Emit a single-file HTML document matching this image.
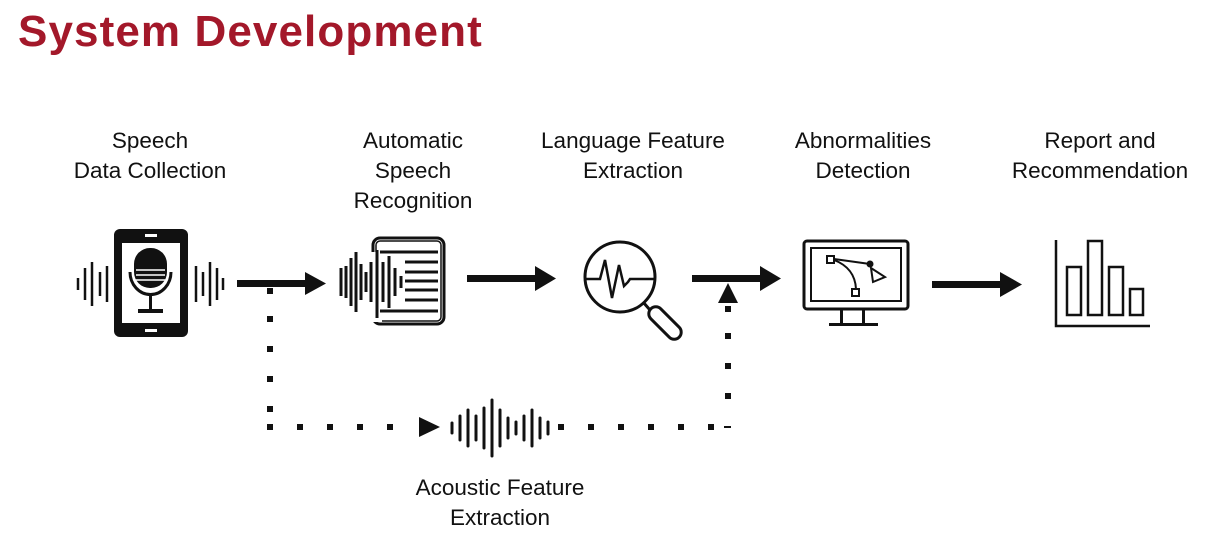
<!DOCTYPE html>
<html><head><meta charset="utf-8"><style>
html,body{margin:0;padding:0;background:#fff;}
body{width:1221px;height:550px;overflow:hidden;position:relative;font-family:"Liberation Sans",sans-serif;}
.t{position:absolute;left:18px;top:7px;font-size:44px;font-weight:bold;color:#a3182a;letter-spacing:1.1px;}
</style></head><body>
<div class="t">System Development</div>
<svg width="1221" height="550" style="position:absolute;left:0;top:0" font-family="Liberation Sans, sans-serif" font-size="22.5" fill="#111">
<g text-anchor="middle">
<text x="150" y="148">Speech</text><text x="150" y="178">Data Collection</text>
<text x="413" y="148">Automatic</text><text x="413" y="178">Speech</text><text x="413" y="208">Recognition</text>
<text x="633" y="148">Language Feature</text><text x="633" y="178">Extraction</text>
<text x="863" y="148">Abnormalities</text><text x="863" y="178">Detection</text>
<text x="1100" y="148">Report and</text><text x="1100" y="178">Recommendation</text>
<text x="500" y="495">Acoustic Feature</text><text x="500" y="525">Extraction</text>
</g>
<rect x="114" y="229" width="74" height="108" rx="6" fill="#111"/>
<rect x="122" y="243" width="58" height="80" fill="#fff"/>
<rect x="145" y="234" width="12" height="3" fill="#fff"/><rect x="145" y="329" width="12" height="3" fill="#fff"/>
<rect x="134" y="248" width="33" height="40" rx="16" fill="#111"/>
<g stroke="#fff" stroke-width="1.5"><line x1="136" y1="270" x2="165" y2="270"/><line x1="136" y1="275" x2="165" y2="275"/><line x1="136" y1="280" x2="165" y2="280"/></g>
<path d="M130 272 A20 22 0 0 0 171 272" fill="none" stroke="#111" stroke-width="3"/>
<rect x="149" y="294" width="3" height="16" fill="#111"/><rect x="138" y="309" width="25" height="4" fill="#111"/>
<g stroke="#111" stroke-width="2.5"><line x1="78" y1="278" x2="78" y2="290"/><line x1="85" y1="268" x2="85" y2="300"/><line x1="92" y1="262" x2="92" y2="306"/><line x1="100" y1="272" x2="100" y2="296"/><line x1="107" y1="266" x2="107" y2="302"/>
<line x1="196" y1="266" x2="196" y2="302"/><line x1="203" y1="272" x2="203" y2="296"/><line x1="210" y1="262" x2="210" y2="306"/><line x1="217" y1="268" x2="217" y2="300"/><line x1="223" y1="278" x2="223" y2="290"/></g>
<rect x="237" y="280" width="70" height="7"/><polygon points="305,272 326,283.5 305,295"/>
<rect x="467" y="275" width="70" height="7"/><polygon points="535,266 556,278.5 535,291"/>
<rect x="692" y="275" width="70" height="7"/><polygon points="760,266 781,278.5 760,291"/>
<rect x="932" y="281" width="70" height="7"/><polygon points="1000,272 1022,284.5 1000,297"/>
<g fill="#111">
<rect x="267" y="288" width="6" height="6"/><rect x="267" y="316" width="6" height="6"/><rect x="267" y="346" width="6" height="6"/><rect x="267" y="376" width="6" height="6"/><rect x="267" y="406" width="6" height="6"/><rect x="267" y="424" width="6" height="6"/>
<rect x="297" y="424" width="6" height="6"/><rect x="327" y="424" width="6" height="6"/><rect x="357" y="424" width="6" height="6"/><rect x="387" y="424" width="6" height="6"/>
<polygon points="419,417 440,427 419,437"/>
<rect x="558" y="424" width="6" height="6"/><rect x="588" y="424" width="6" height="6"/><rect x="618" y="424" width="6" height="6"/><rect x="648" y="424" width="6" height="6"/><rect x="678" y="424" width="6" height="6"/><rect x="708" y="424" width="6" height="6"/>
<rect x="724" y="426" width="7" height="2"/>
<rect x="725" y="393" width="6" height="6"/><rect x="725" y="363" width="6" height="6"/><rect x="725" y="333" width="6" height="6"/><rect x="725" y="306" width="6" height="6"/>
<polygon points="718,303 728,283 738,303"/>
</g>
<g stroke="#111" stroke-width="3" stroke-linecap="round">
<line x1="452" y1="423" x2="452" y2="433"/><line x1="460" y1="416" x2="460" y2="440"/><line x1="468" y1="410" x2="468" y2="446"/><line x1="476" y1="416" x2="476" y2="440"/><line x1="484" y1="408" x2="484" y2="448"/><line x1="492" y1="400" x2="492" y2="456"/><line x1="500" y1="410" x2="500" y2="446"/><line x1="508" y1="418" x2="508" y2="438"/><line x1="516" y1="422" x2="516" y2="434"/><line x1="524" y1="416" x2="524" y2="440"/><line x1="532" y1="410" x2="532" y2="446"/><line x1="540" y1="418" x2="540" y2="438"/><line x1="548" y1="422" x2="548" y2="434"/>
</g>
<rect x="373" y="238" width="71" height="86" rx="7" fill="none" stroke="#111" stroke-width="3"/>
<rect x="376" y="241" width="65" height="80" rx="4" fill="none" stroke="#111" stroke-width="1.5"/>
<rect x="368" y="252" width="14" height="70" fill="#fff"/>
<g stroke="#111" stroke-width="3"><line x1="380" y1="252" x2="438" y2="252"/><line x1="405" y1="262" x2="438" y2="262"/><line x1="405" y1="272" x2="438" y2="272"/><line x1="405" y1="281" x2="438" y2="281"/><line x1="405" y1="290" x2="438" y2="290"/><line x1="405" y1="300" x2="438" y2="300"/><line x1="380" y1="311" x2="438" y2="311"/></g>
<g stroke="#111" stroke-width="3"><line x1="341" y1="268" x2="341" y2="296"/><line x1="346" y1="266" x2="346" y2="298"/><line x1="351" y1="258" x2="351" y2="306"/><line x1="356" y1="252" x2="356" y2="312"/><line x1="361" y1="264" x2="361" y2="300"/><line x1="366" y1="272" x2="366" y2="292"/><line x1="371" y1="262" x2="371" y2="302"/><line x1="377" y1="250" x2="377" y2="318"/><line x1="383" y1="262" x2="383" y2="302"/><line x1="389" y1="256" x2="389" y2="308"/><line x1="395" y1="268" x2="395" y2="296"/><line x1="401" y1="276" x2="401" y2="288"/></g>
<circle cx="620" cy="277" r="35" fill="none" stroke="#111" stroke-width="3"/>
<polyline points="585,279 600,279 605,260 612,298 619,265 624,286 628,282 630,279 655,279" fill="none" stroke="#111" stroke-width="2.5" stroke-linejoin="miter"/>
<line x1="643" y1="302" x2="650" y2="310" stroke="#111" stroke-width="3"/>
<rect x="645" y="316" width="40" height="14" rx="7" transform="rotate(45 665 323)" fill="none" stroke="#111" stroke-width="3"/>
<rect x="804" y="241" width="104" height="68" rx="3" fill="none" stroke="#111" stroke-width="3"/>
<rect x="811" y="248" width="90" height="53" fill="none" stroke="#111" stroke-width="2"/>
<rect x="840" y="310" width="3" height="14" fill="#111"/><rect x="862" y="310" width="3" height="14" fill="#111"/>
<rect x="829" y="323" width="49" height="3" fill="#111"/>
<g fill="none" stroke="#111" stroke-width="2"><rect x="827" y="256" width="7" height="7"/><rect x="852" y="289" width="7" height="7"/><path d="M834 259 L870 264"/><path d="M834 260 Q855 268 856 289"/><path d="M871 268 L885 277 L873 282 Z"/></g>
<circle cx="870" cy="264" r="3.5" fill="#111"/>
<g fill="none" stroke="#111" stroke-width="2.5"><polyline points="1056,240 1056,326 1150,326"/>
<rect x="1067" y="267" width="14" height="48"/><rect x="1088" y="241" width="14" height="74"/><rect x="1109" y="267" width="14" height="48"/><rect x="1130" y="289" width="13" height="26"/></g>
</svg>
</body></html>
